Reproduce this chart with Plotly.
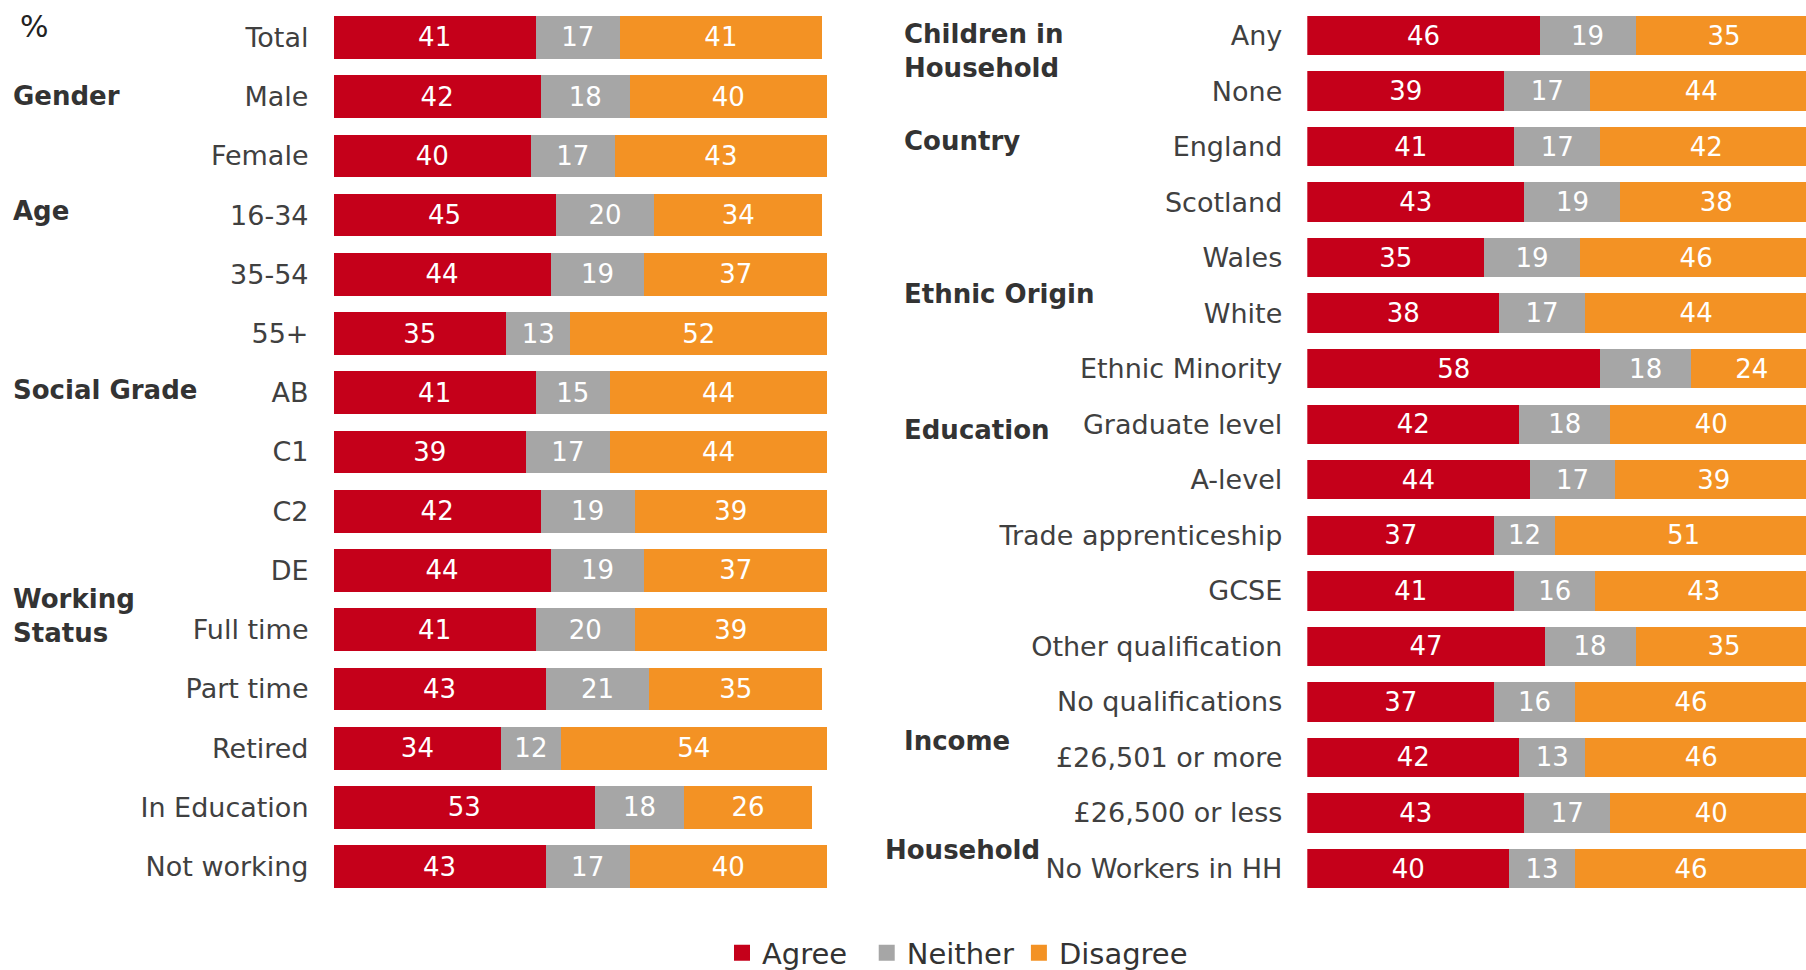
import plotly.graph_objects as go

# ---- data ----
left_labels = ["Total", "Male", "Female", "16-34", "35-54", "55+", "AB", "C1", "C2", "DE",
               "Full time", "Part time", "Retired", "In Education", "Not working"]
left_agree = [41, 42, 40, 45, 44, 35, 41, 39, 42, 44, 41, 43, 34, 53, 43]
left_neither = [17, 18, 17, 20, 19, 13, 15, 17, 19, 19, 20, 21, 12, 18, 17]
left_disagree = [41, 40, 43, 34, 37, 52, 44, 44, 39, 37, 39, 35, 54, 26, 40]

right_labels = ["Any", "None", "England", "Scotland", "Wales", "White", "Ethnic Minority",
                "Graduate level", "A-level", "Trade apprenticeship", "GCSE",
                "Other qualification", "No qualifications", "£26,501 or more",
                "£26,500 or less", "No Workers in HH"]
right_agree = [46, 39, 41, 43, 35, 38, 58, 42, 44, 37, 41, 47, 37, 42, 43, 40]
right_neither = [19, 17, 17, 19, 19, 17, 18, 18, 17, 12, 16, 18, 16, 13, 17, 13]
right_disagree = [35, 44, 42, 38, 46, 44, 24, 40, 39, 51, 43, 35, 46, 46, 40, 46]

series_names = ["Agree", "Neither", "Disagree"]

left_groups = ["Gender", "Age", "Social Grade", "Working<br>Status"]
right_groups = ["Children in<br>Household", "Country", "Ethnic Origin", "Education", "Income", "Household"]

# ---- style ----
COLORS = ["#C5001A", "#A6A6A6", "#F39224"]
LEGEND_PAD = ["\u2002", "", ""]  # extra room after "Agree" in the legend row
FONT = "DejaVu Sans, Verdana, sans-serif"
TXT = "#404040"
W, H = 1806, 970

fig = go.Figure()

left_vals = [left_agree, left_neither, left_disagree]
right_vals = [right_agree, right_neither, right_disagree]

for name, col, lv, rv in zip(series_names, COLORS, left_vals, right_vals):
    fig.add_trace(go.Bar(
        y=left_labels, x=lv, orientation="h", name=name, width=0.72,
        marker=dict(color=col, line=dict(width=0)),
        text=lv, textposition="inside", insidetextanchor="middle",
        textfont=dict(color="white", size=26, family=FONT),
        xaxis="x", yaxis="y", showlegend=False,
    ))
    fig.add_trace(go.Bar(
        y=right_labels, x=rv, orientation="h", name=name, width=0.71,
        marker=dict(color=col, line=dict(width=0)),
        text=rv, textposition="inside", insidetextanchor="middle",
        textfont=dict(color="white", size=26, family=FONT),
        xaxis="x2", yaxis="y2", showlegend=False,
    ))

# legend entries with square keys
for name, col, pad in zip(series_names, COLORS, LEGEND_PAD):
    fig.add_trace(go.Scatter(x=[None], y=[None], mode="markers", name=name + pad,
                             marker=dict(symbol="square", size=18, color=col),
                             xaxis="x", yaxis="y"))

ydom = [0.076, 0.992]
axis_common = dict(showgrid=False, zeroline=False, showline=False, ticks="", automargin=False)

fig.update_layout(
    width=W, height=H,
    margin=dict(l=0, r=0, t=0, b=0, autoexpand=False),
    paper_bgcolor="white", plot_bgcolor="white",
    barmode="stack",
    font=dict(family=FONT, color=TXT),
    xaxis=dict(domain=[333.5 / W, 827 / W], range=[0, 100], visible=False, **axis_common),
    yaxis=dict(domain=ydom, anchor="x", range=[14.5, -0.5], type="category",
               tickfont=dict(size=27, color=TXT), ticklabelstandoff=24, **axis_common),
    xaxis2=dict(domain=[1307.3 / W, 1.0], range=[0, (W - 1307.3) / 5.05], visible=False, **axis_common),
    yaxis2=dict(domain=ydom, anchor="x2", range=[15.5, -0.5], type="category",
                tickfont=dict(size=27, color=TXT), ticklabelstandoff=24, **axis_common),
    legend=dict(orientation="h", x=722 / W, xanchor="left", y=1 - 953 / H, yanchor="middle",
                font=dict(size=29, color="#333333"), traceorder="normal",
                itemwidth=30, tracegroupgap=0),
    showlegend=True,
)

# group headings (pixel positions of the original layout)
left_pos = [95.6, 211, 389.5, 616]
right_pos = [(901.5, 50.7), (901.5, 140.5), (901.5, 293.8), (901.5, 429.7), (901.5, 741), (882.5, 850)]

for txt, ypx in zip(left_groups, left_pos):
    fig.add_annotation(text="<b>" + txt + "</b>", xref="paper", yref="paper",
                       x=10.5 / W, y=1 - ypx / H, xanchor="left", yanchor="middle",
                       align="left", showarrow=False,
                       font=dict(size=26, color="#333333", family=FONT))
for txt, (xpx, ypx) in zip(right_groups, right_pos):
    fig.add_annotation(text="<b>" + txt + "</b>", xref="paper", yref="paper",
                       x=xpx / W, y=1 - ypx / H, xanchor="left", yanchor="middle",
                       align="left", showarrow=False,
                       font=dict(size=26, color="#333333", family=FONT))

fig.add_annotation(text="%", xref="paper", yref="paper", x=18 / W, y=1 - 26 / H,
                   xanchor="left", yanchor="middle", showarrow=False,
                   font=dict(size=30, color="#222222", family=FONT))

# page body has a default 8px margin; drop it so the figure fills the window
fig.write_html("out.html", config={"displayModeBar": False},
               post_script="document.body.style.margin='0';")
